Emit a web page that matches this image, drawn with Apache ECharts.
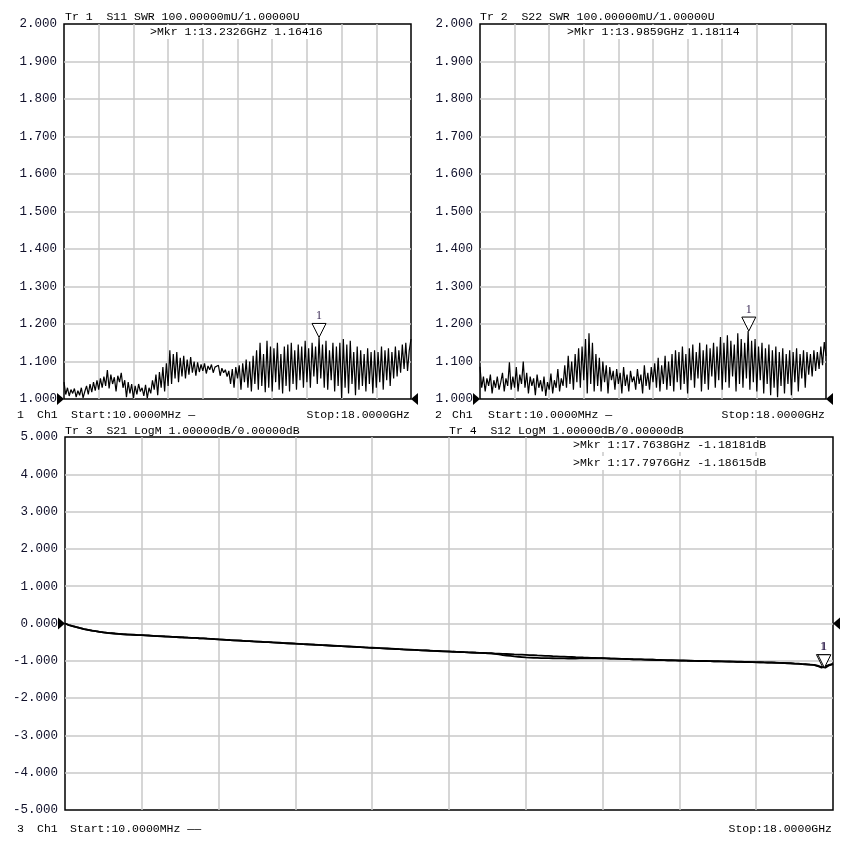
<!DOCTYPE html>
<html><head><meta charset="utf-8">
<script src="https://cdn.jsdelivr.net/npm/echarts@6/dist/echarts.min.js"></script>
<style>html,body{margin:0;padding:0;background:#fff}#c{width:853px;height:845px}</style>
</head><body><div id="c"></div>
<script>
// ---- sweep ----
const startMHz = 10;
const stopMHz = 18000;
const nPoints = 201;

// ---- S11 SWR (Tr 1) ----
const s11 = [
1.045,1.012,1.030,1.008,1.025,1.015,1.028,1.005,1.022,1.010,
1.030,1.003,1.020,1.035,1.012,1.040,1.018,1.045,1.022,1.050,
1.025,1.055,1.030,1.060,1.035,1.077,1.028,1.065,1.040,1.058,
1.020,1.062,1.045,1.070,1.030,1.050,1.005,1.045,1.015,1.040,
1.002,1.035,1.012,1.040,1.020,1.030,1.008,1.038,1.002,1.030,
1.015,1.050,1.025,1.065,1.010,1.072,1.030,1.085,1.020,1.095,
1.035,1.130,1.040,1.120,1.055,1.125,1.045,1.110,1.060,1.115,
1.055,1.105,1.065,1.112,1.070,1.100,1.062,1.098,1.072,1.092,
1.075,1.095,1.068,1.088,1.078,1.092,1.070,1.085,1.080,1.090,
1.062,1.082,1.070,1.078,1.060,1.075,1.040,1.080,1.030,1.085,
1.055,1.090,1.025,1.095,1.045,1.105,1.030,1.100,1.020,1.115,
1.040,1.130,1.025,1.150,1.035,1.120,1.018,1.155,1.030,1.140,
1.020,1.135,1.045,1.150,1.025,1.120,1.015,1.140,1.035,1.145,
1.020,1.150,1.040,1.130,1.025,1.145,1.050,1.140,1.030,1.155,
1.045,1.135,1.030,1.150,1.060,1.140,1.040,1.16416,1.055,1.145,
1.030,1.155,1.025,1.130,1.050,1.150,1.020,1.140,1.035,1.150,
1.002,1.160,1.030,1.145,1.015,1.155,1.040,1.125,1.010,1.140,
1.025,1.130,1.035,1.120,1.020,1.135,1.040,1.125,1.015,1.130,
1.030,1.125,1.045,1.140,1.025,1.130,1.050,1.135,1.035,1.125,
1.055,1.140,1.060,1.130,1.070,1.145,1.080,1.150,1.075,1.130,1.160
];

// ---- S22 SWR (Tr 2) ----
const s22 = [
1.086,1.030,1.060,1.020,1.055,1.035,1.065,1.015,1.050,1.030,
1.060,1.025,1.045,1.070,1.020,1.055,1.035,1.098,1.025,1.060,
1.030,1.085,1.020,1.065,1.040,1.100,1.030,1.070,1.015,1.060,
1.035,1.055,1.010,1.065,1.030,1.050,1.020,1.060,1.008,1.045,
1.025,1.068,1.015,1.050,1.030,1.080,1.020,1.055,1.035,1.090,
1.030,1.115,1.040,1.100,1.025,1.120,1.045,1.135,1.030,1.140,
1.050,1.160,1.015,1.175,1.040,1.150,1.020,1.120,1.035,1.110,
1.020,1.100,1.045,1.090,1.015,1.085,1.050,1.075,1.025,1.080,
1.040,1.070,1.015,1.085,1.035,1.065,1.020,1.075,1.045,1.060,
1.025,1.080,1.040,1.065,1.015,1.090,1.035,1.070,1.025,1.085,
1.045,1.095,1.030,1.110,1.020,1.090,1.040,1.115,1.025,1.100,
1.035,1.120,1.020,1.130,1.045,1.125,1.025,1.140,1.040,1.120,
1.015,1.135,1.050,1.145,1.030,1.125,1.055,1.150,1.020,1.130,
1.040,1.145,1.025,1.135,1.060,1.150,1.030,1.140,1.050,1.165,
1.025,1.150,1.045,1.170,1.030,1.155,1.060,1.145,1.020,1.175,
1.040,1.160,1.030,1.150,1.055,1.18114,1.025,1.155,1.045,1.160,
1.020,1.140,1.050,1.150,1.015,1.135,1.040,1.145,1.010,1.130,
1.030,1.140,1.005,1.125,1.035,1.135,1.015,1.120,1.040,1.130,
1.010,1.125,1.045,1.135,1.020,1.120,1.055,1.130,1.030,1.125,
1.065,1.120,1.060,1.130,1.075,1.125,1.080,1.140,1.090,1.152,1.115
];

// ---- S21 LogM (Tr 3) ----
const s21 = [
0.000,-0.040,-0.072,-0.098,-0.125,-0.148,-0.170,-0.188,-0.207,-0.222,
-0.238,-0.250,-0.262,-0.268,-0.280,-0.286,-0.295,-0.298,-0.303,-0.309,
-0.312,-0.320,-0.322,-0.333,-0.336,-0.343,-0.346,-0.352,-0.360,-0.362,
-0.371,-0.372,-0.380,-0.386,-0.388,-0.396,-0.400,-0.406,-0.412,-0.418,
-0.428,-0.430,-0.440,-0.443,-0.452,-0.455,-0.462,-0.468,-0.470,-0.480,
-0.484,-0.490,-0.497,-0.500,-0.508,-0.512,-0.518,-0.526,-0.530,-0.534,
-0.540,-0.548,-0.552,-0.556,-0.565,-0.568,-0.575,-0.580,-0.583,-0.592,
-0.596,-0.600,-0.608,-0.612,-0.618,-0.622,-0.630,-0.634,-0.640,-0.645,
-0.650,-0.656,-0.660,-0.668,-0.670,-0.678,-0.682,-0.688,-0.692,-0.700,
-0.703,-0.708,-0.715,-0.718,-0.722,-0.730,-0.733,-0.738,-0.744,-0.746,
-0.752,-0.756,-0.762,-0.764,-0.770,-0.774,-0.778,-0.784,-0.786,-0.792,
-0.795,-0.798,-0.806,-0.808,-0.815,-0.818,-0.822,-0.828,-0.832,-0.836,
-0.840,-0.846,-0.850,-0.856,-0.860,-0.866,-0.870,-0.876,-0.880,-0.886,
-0.890,-0.895,-0.898,-0.904,-0.906,-0.912,-0.915,-0.920,-0.922,-0.928,
-0.930,-0.935,-0.938,-0.940,-0.946,-0.948,-0.950,-0.955,-0.958,-0.960,
-0.962,-0.968,-0.970,-0.972,-0.978,-0.976,-0.982,-0.985,-0.984,-0.990,
-0.992,-0.994,-0.998,-0.996,-1.002,-1.004,-1.006,-1.004,-1.010,-1.012,
-1.014,-1.016,-1.020,-1.018,-1.024,-1.026,-1.028,-1.030,-1.034,-1.036,
-1.040,-1.038,-1.044,-1.048,-1.046,-1.052,-1.056,-1.060,-1.064,-1.068,
-1.075,-1.080,-1.088,-1.095,-1.100,-1.108,-1.130,-1.18181,-1.150,-1.110,-1.085
];

// ---- S12 LogM (Tr 4) ----
const s12 = [
0.000,-0.042,-0.070,-0.100,-0.123,-0.150,-0.168,-0.190,-0.205,-0.224,
-0.236,-0.252,-0.260,-0.270,-0.278,-0.288,-0.293,-0.300,-0.302,-0.311,
-0.314,-0.318,-0.325,-0.330,-0.338,-0.341,-0.348,-0.350,-0.358,-0.364,
-0.368,-0.375,-0.378,-0.388,-0.386,-0.398,-0.398,-0.408,-0.410,-0.420,
-0.426,-0.432,-0.438,-0.445,-0.450,-0.457,-0.460,-0.470,-0.472,-0.478,
-0.486,-0.488,-0.499,-0.502,-0.506,-0.514,-0.516,-0.524,-0.532,-0.536,
-0.542,-0.546,-0.554,-0.558,-0.562,-0.570,-0.573,-0.582,-0.585,-0.590,
-0.598,-0.602,-0.606,-0.614,-0.616,-0.624,-0.628,-0.636,-0.638,-0.647,
-0.652,-0.654,-0.662,-0.666,-0.672,-0.676,-0.684,-0.686,-0.694,-0.698,
-0.705,-0.706,-0.713,-0.720,-0.724,-0.728,-0.735,-0.736,-0.742,-0.748,
-0.750,-0.758,-0.760,-0.766,-0.768,-0.776,-0.780,-0.782,-0.788,-0.790,
-0.797,-0.802,-0.815,-0.830,-0.845,-0.858,-0.870,-0.882,-0.892,-0.900,
-0.908,-0.914,-0.918,-0.922,-0.926,-0.928,-0.930,-0.932,-0.935,-0.936,
-0.936,-0.938,-0.935,-0.938,-0.934,-0.936,-0.932,-0.934,-0.930,-0.932,
-0.932,-0.936,-0.940,-0.944,-0.944,-0.950,-0.952,-0.954,-0.960,-0.962,
-0.964,-0.966,-0.972,-0.970,-0.976,-0.980,-0.980,-0.987,-0.986,-0.988,
-0.994,-0.992,-0.996,-1.000,-1.000,-1.006,-1.004,-1.008,-1.008,-1.014,
-1.012,-1.018,-1.018,-1.022,-1.022,-1.028,-1.026,-1.032,-1.032,-1.038,
-1.038,-1.042,-1.042,-1.046,-1.050,-1.050,-1.058,-1.058,-1.066,-1.066,
-1.078,-1.078,-1.090,-1.092,-1.104,-1.112,-1.140,-1.160,-1.18615,-1.120,-1.090
];

// ---- markers ----
const markerFreqMHz = [13232.6, 13985.9, 17763.8, 17797.6];
const markerValue = [1.16416, 1.18114, -1.18181, -1.18615];

// ---- axis ranges / ticks ----
const swrMin = 1, swrMax = 2, swrStep = 0.1;
const dbMin = -5, dbMax = 5, dbStep = 1;
const refSwr = 1.0, refDb = 0.0;

// ---- texts ----
const headers = [
  'Tr 1  S11 SWR 100.00000mU/1.00000U',
  'Tr 2  S22 SWR 100.00000mU/1.00000U',
  'Tr 3  S21 LogM 1.00000dB/0.00000dB',
  'Tr 4  S12 LogM 1.00000dB/0.00000dB'
];
const markerReadouts = [
  '>Mkr 1:13.2326GHz 1.16416',
  '>Mkr 1:13.9859GHz 1.18114',
  '>Mkr 1:17.7638GHz -1.18181dB',
  '>Mkr 1:17.7976GHz -1.18615dB'
];
const chanNums = ['1', '2', '3'];
const startLabels = ['Start:10.0000MHz \u2014', 'Start:10.0000MHz \u2014', 'Start:10.0000MHz \u2014\u2014'];
const stopLabel = 'Stop:18.0000GHz';

const span = stopMHz - startMHz;
const xStep = span / 10;
function toPts(vals) { return vals.map((v, i) => [i * span / (nPoints - 1), v]); }

const FONT = '"Liberation Mono", "DejaVu Sans Mono", monospace';
const TXT = '#000';
const AXT = '#10102a';
const GRIDC = '#c8c8c8';

const chart = echarts.init(document.getElementById('c'), null, {renderer: 'canvas'});

function xAxis(gi) {
  return {
    gridIndex: gi, type: 'value', min: 0, max: span, interval: xStep,
    axisLine: {show: false}, axisTick: {show: false}, axisLabel: {show: false},
    splitLine: {show: true, showMinLine: false, showMaxLine: false, lineStyle: {color: GRIDC, width: 1.5}}
  };
}
function yAxis(gi, mn, mx, st) {
  return {
    gridIndex: gi, type: 'value', min: mn, max: mx, interval: st,
    axisLine: {show: false}, axisTick: {show: false},
    axisLabel: {show: true, margin: 7, color: AXT, fontFamily: FONT, fontSize: 12.5,
      formatter: v => v.toFixed(3)},
    splitLine: {show: true, showMinLine: false, showMaxLine: false, lineStyle: {color: GRIDC, width: 1.5}}
  };
}

const downTri = 'path://M0,0 L10,0 L5,10 Z';
function markerPoint(mi, size) {
  return {
    coord: [markerFreqMHz[mi] - startMHz, markerValue[mi]],
    symbol: downTri, symbolSize: [size, size], symbolOffset: [0, -size / 2],
    itemStyle: {color: '#fff', borderColor: '#000', borderWidth: 1},
    label: {show: true, position: 'top', distance: 1, formatter: '1', color: '#3a2a55',
      fontFamily: '"Liberation Serif", serif', fontSize: 12}
  };
}
function refArrows(val) {
  return [
    {coord: [0, val], symbol: 'triangle', symbolRotate: -90, symbolSize: [12, 7], symbolOffset: [-3.5, 0],
     itemStyle: {color: '#000'}, label: {show: false}},
    {coord: [span, val], symbol: 'triangle', symbolRotate: 90, symbolSize: [12, 7], symbolOffset: [3.5, 0],
     itemStyle: {color: '#000'}, label: {show: false}}
  ];
}
function lineSeries(gi, vals, width, marks) {
  return {
    type: 'line', xAxisIndex: gi, yAxisIndex: gi, data: toPts(vals), showSymbol: false,
    symbol: 'none', lineStyle: {color: '#000', width: width}, animation: false, clip: true,
    silent: true,
    markPoint: {animation: false, silent: true, data: marks}
  };
}

function txt(text, x, y, opts) {
  return {
    type: 'text', z: 100, silent: true,
    style: Object.assign({text: text, x: x, y: y, font: '11.5px ' + FONT, fill: TXT,
      textAlign: 'left', textVerticalAlign: 'middle'}, opts || {})
  };
}

const graphics = [
  txt(headers[0], 65, 17),
  txt(headers[1], 480, 17),
  txt(headers[2], 65, 431),
  txt(headers[3], 449, 431),
  txt(markerReadouts[0], 148, 32, {backgroundColor: '#fff', padding: [1, 2]}),
  txt(markerReadouts[1], 565, 32, {backgroundColor: '#fff', padding: [1, 2]}),
  txt(markerReadouts[2], 571, 445, {backgroundColor: '#fff', padding: [1, 2]}),
  txt(markerReadouts[3], 571, 463, {backgroundColor: '#fff', padding: [1, 2]}),
  txt(chanNums[0], 17, 415), txt('Ch1', 37, 415), txt(startLabels[0], 71, 415),
  txt(stopLabel, 410, 415, {textAlign: 'right'}),
  txt(chanNums[1], 435, 415), txt('Ch1', 452, 415), txt(startLabels[1], 488, 415),
  txt(stopLabel, 825, 415, {textAlign: 'right'}),
  txt(chanNums[2], 17, 829), txt('Ch1', 37, 829), txt(startLabels[2], 70, 829),
  txt(stopLabel, 832, 829, {textAlign: 'right'})
];

chart.setOption({
  animation: false,
  backgroundColor: '#fff',
  grid: [
    {left: 64, top: 24, width: 347, height: 375, show: true, borderColor: '#000', borderWidth: 1.5, backgroundColor: 'transparent'},
    {left: 480, top: 24, width: 346, height: 375, show: true, borderColor: '#000', borderWidth: 1.5, backgroundColor: 'transparent'},
    {left: 65, top: 437, width: 768, height: 373, show: true, borderColor: '#000', borderWidth: 1.5, backgroundColor: 'transparent'}
  ],
  xAxis: [xAxis(0), xAxis(1), xAxis(2)],
  yAxis: [yAxis(0, swrMin, swrMax, swrStep), yAxis(1, swrMin, swrMax, swrStep), yAxis(2, dbMin, dbMax, dbStep)],
  series: [
    lineSeries(0, s11, 1.2, [markerPoint(0, 14)].concat(refArrows(refSwr))),
    lineSeries(1, s22, 1.2, [markerPoint(1, 14)].concat(refArrows(refSwr))),
    lineSeries(2, s21, 1.8, [markerPoint(2, 13)].concat(refArrows(refDb))),
    lineSeries(2, s12, 1.8, [markerPoint(3, 13)])
  ],
  graphic: graphics
});
</script>
</body></html>
